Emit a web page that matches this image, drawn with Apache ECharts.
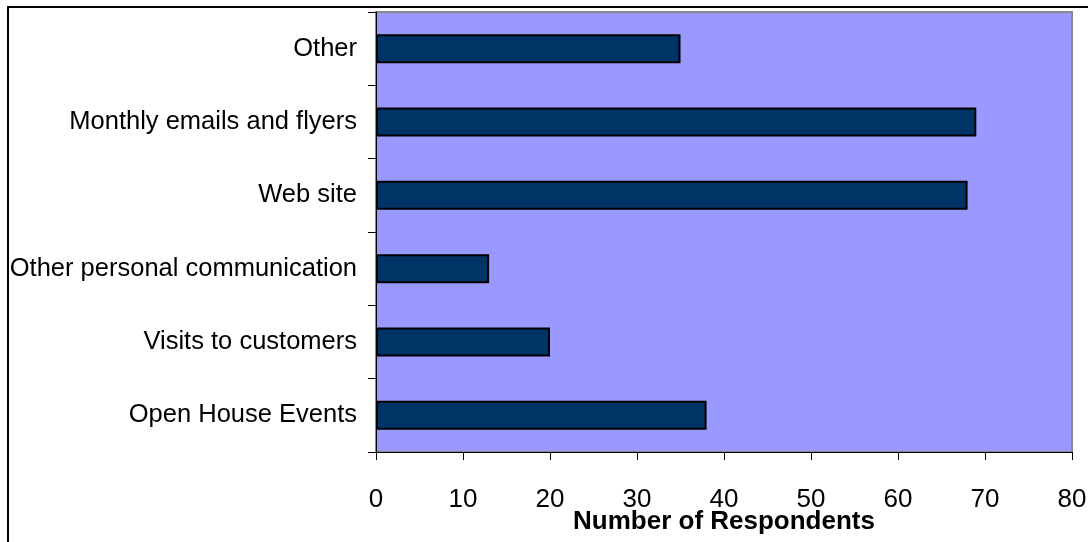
<!DOCTYPE html>
<html>
<head>
<meta charset="utf-8">
<script src="https://cdn.jsdelivr.net/npm/echarts@6/dist/echarts.min.js"></script>
<style>
html,body{margin:0;padding:0;background:#fff;}
#chart{width:1088px;height:542px;}
</style>
</head>
<body>
<div id="chart"></div>
<script>
const categories = ["Open House Events", "Visits to customers", "Other personal communication", "Web site", "Monthly emails and flyers", "Other"];
const respondents = [38, 20, 13, 68, 69, 35];
const xTicks = { min: 0, max: 80, interval: 10 };
const xAxisTitle = "Number of Respondents";

const font = "'Liberation Sans Narrow', 'Liberation Sans', Arial, sans-serif";
const chart = echarts.init(document.getElementById('chart'));
chart.setOption({
  animation: false,
  backgroundColor: '#ffffff',
  graphic: [{
    type: 'rect', silent: true, z: -1,
    shape: { x: 8, y: 7, width: 1100, height: 560 },
    style: { fill: 'none', stroke: '#000', lineWidth: 2 }
  }],
  grid: {
    left: 376, right: 16, top: 12, bottom: 90,
    containLabel: false, outerBoundsMode: 'none',
    show: true, backgroundColor: '#9999ff', borderColor: '#888', borderWidth: 2
  },
  xAxis: {
    type: 'value', min: xTicks.min, max: xTicks.max, interval: xTicks.interval,
    name: xAxisTitle, nameLocation: 'middle', nameGap: 57, nameMoveOverlap: false,
    nameTextStyle: { fontFamily: font, fontWeight: 'bold', fontSize: 26, color: '#000' },
    axisLine: { show: true, lineStyle: { color: '#000', width: 1 } },
    axisTick: { show: true, length: 8, lineStyle: { color: '#000' } },
    axisLabel: { fontFamily: font, fontSize: 26, color: '#000', margin: 35 },
    splitLine: { show: false }
  },
  yAxis: {
    type: 'category', data: categories,
    axisLine: { show: true, lineStyle: { color: '#000', width: 1 } },
    axisTick: { show: true, length: 8, lineStyle: { color: '#000' } },
    axisLabel: { fontFamily: font, fontSize: 25.5, color: '#000', margin: 19 },
    splitLine: { show: false }
  },
  series: [{
    type: 'bar', data: respondents, barWidth: 29,
    itemStyle: { color: '#003366', borderColor: '#000', borderWidth: 2 }
  }]
});
</script>
</body>
</html>
